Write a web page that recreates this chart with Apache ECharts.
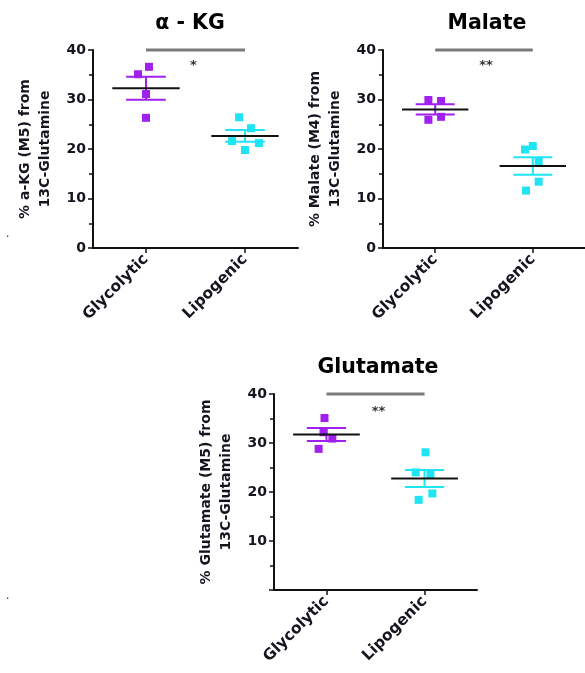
<!DOCTYPE html>
<html>
<head>
<meta charset="utf-8">
<script src="https://cdn.jsdelivr.net/npm/echarts@6/dist/echarts.min.js"></script>
<style>html,body{margin:0;padding:0;background:#fff}#c{width:585px;height:673px}</style>
</head>
<body>
<div id="c"></div>
<script>
// ---- data ----
const categories = ['Glycolytic', 'Lipogenic'];
const titles = ['α - KG', 'Malate', 'Glutamate'];
const yNames = ['% a-KG (M5) from\n13C-Glutamine', '% Malate (M4) from\n13C-Glutamine', '% Glutamate (M5) from\n13C-Glutamine'];
const yTicks = [0, 10, 20, 30, 40];
const sigLabels = ['*', '**', '**'];

const kgGly = [36.6, 35.1, 31.1, 26.3];
const kgLip = [26.4, 24.2, 21.6, 21.2, 19.8];
const malGly = [29.9, 29.7, 25.9, 26.5];
const malLip = [20.6, 19.9, 17.4, 13.4, 11.6];
const gluGly = [35.1, 32.2, 30.9, 28.8];
const gluLip = [28.1, 24.0, 23.6, 19.7, 18.4];

// horizontal scatter jitter (category units)
const kgGlyJit = [0.03, -0.08, 0, 0];
const kgLipJit = [-0.06, 0.06, -0.13, 0.14, 0];
const malGlyJit = [-0.07, 0.06, -0.07, 0.06];
const malLipJit = [0, -0.08, 0.06, 0.06, -0.07];
const gluGlyJit = [-0.02, -0.03, 0.06, -0.08];
const gluLipJit = [0.01, -0.09, 0.06, 0.08, -0.06];

// ---- layout / style ----
const FONT = 'DejaVu Sans';
const PURPLE = '#A020F0';
const CYAN = '#1FE4F4';
const grids = [
  {left: 93, top: 50, width: 205, height: 198},
  {left: 383, top: 50, width: 205, height: 198},
  {left: 274, top: 394, width: 203, height: 196}
];
const titleCenters = [185, 482, 373];
const sigTextX = [1.48, 1.52, 1.53];
const sigTextY = [36.8, 36.9, 36.4];
const panels = [
  {gly: kgGly, lip: kgLip, gj: kgGlyJit, lj: kgLipJit},
  {gly: malGly, lip: malLip, gj: malGlyJit, lj: malLipJit},
  {gly: gluGly, lip: gluLip, gj: gluGlyJit, lj: gluLipJit}
];

function meanSem(a) {
  const n = a.length;
  const m = a.reduce((s, v) => s + v, 0) / n;
  const sd = Math.sqrt(a.reduce((s, v) => s + (v - m) * (v - m), 0) / (n - 1));
  return [m, sd / Math.sqrt(n)];
}

const xAxis = [], yAxis = [], series = [], title = [];
panels.forEach((p, i) => {
  const g = grids[i];
  title.push({
    text: titles[i], left: titleCenters[i], top: g.top - 42, textAlign: 'center',
    textStyle: {fontFamily: FONT, fontWeight: 'bold', fontSize: 20.5, color: '#000'}
  });
  xAxis.push({
    type: 'value', gridIndex: i, min: 0.465, max: 2.535,
    axisLine: {show: true, lineStyle: {color: '#111', width: 2}},
    axisTick: {show: true, length: 5, lineStyle: {color: '#111', width: 1.5}, customValues: [1, 2]},
    axisLabel: {
      customValues: [1, 2], rotate: 45, margin: 9,
      formatter: v => categories[Math.round(v) - 1] || '',
      fontFamily: FONT, fontWeight: 'bold', fontSize: 15.5, color: '#151520'
    },
    splitLine: {show: false}
  });
  yAxis.push({
    type: 'value', gridIndex: i, min: yTicks[0], max: yTicks[yTicks.length - 1], interval: yTicks[1] - yTicks[0],
    name: yNames[i], nameLocation: 'middle', nameGap: 38, nameRotate: 90,
    nameTextStyle: {fontFamily: FONT, fontWeight: 'bold', fontSize: 14, lineHeight: 20, color: '#151520'},
    axisLine: {show: true, lineStyle: {color: '#111', width: 2}},
    axisTick: {show: true, length: 5, lineStyle: {color: '#111', width: 1.5}},
    minorTick: {show: true, splitNumber: 2, length: 4, lineStyle: {color: '#111', width: 1.5}},
    axisLabel: {
      margin: 7, showMinLabel: i !== 2,
      fontFamily: FONT, fontWeight: 'bold', fontSize: 14, color: '#151520'
    },
    splitLine: {show: false}
  });
  const groups = [
    {vals: p.gly, jit: p.gj, x: 1, color: PURPLE},
    {vals: p.lip, jit: p.lj, x: 2, color: CYAN}
  ];
  groups.forEach(gr => {
    const [m, s] = meanSem(gr.vals);
    series.push({
      type: 'custom', xAxisIndex: i, yAxisIndex: i, z: 2, clip: false,
      data: [[gr.x, m, s]],
      renderItem: (params, api) => {
        const x = api.value(0), mm = api.value(1), ss = api.value(2);
        const c = (a, b) => api.coord([a, b]);
        const st = {stroke: gr.color, lineWidth: 2};
        const l = (p1, p2, style) => ({type: 'line', shape: {x1: p1[0], y1: p1[1], x2: p2[0], y2: p2[1]}, style});
        return {type: 'group', children: [
          l(c(x, mm - ss), c(x, mm + ss), st),
          l(c(x - 0.2, mm + ss), c(x + 0.2, mm + ss), st),
          l(c(x - 0.2, mm - ss), c(x + 0.2, mm - ss), st)
        ]};
      }
    });
    series.push({
      type: 'scatter', xAxisIndex: i, yAxisIndex: i, z: 3,
      symbol: 'rect', symbolSize: 8,
      itemStyle: {color: gr.color, opacity: 1},
      data: gr.vals.map((v, k) => [gr.x + gr.jit[k], v])
    });
    series.push({
      type: 'custom', xAxisIndex: i, yAxisIndex: i, z: 4, clip: false,
      data: [[gr.x, m]],
      renderItem: (params, api) => {
        const x = api.value(0), mm = api.value(1);
        const a = api.coord([x - 0.34, mm]), b = api.coord([x + 0.34, mm]);
        return {type: 'line', shape: {x1: a[0], y1: a[1], x2: b[0], y2: b[1]}, style: {stroke: '#111', lineWidth: 2}};
      }
    });
  });
  series.push({
    type: 'line', xAxisIndex: i, yAxisIndex: i, clip: false, symbol: 'none', silent: true,
    lineStyle: {color: '#7a7a7a', width: 3},
    data: [[1, 40], [2, 40]]
  });
  series.push({
    type: 'custom', xAxisIndex: i, yAxisIndex: i, clip: false, silent: true, z: 5,
    data: [[sigTextX[i], sigTextY[i]]],
    renderItem: (params, api) => {
      const pt = api.coord([api.value(0), api.value(1)]);
      return {type: 'text', x: pt[0], y: pt[1], style: {
        text: sigLabels[i], align: 'center', verticalAlign: 'middle',
        fontFamily: FONT, fontWeight: 'bold', fontSize: 13, fill: '#333'
      }};
    }
  });
});

const chart = echarts.init(document.getElementById('c'), null, {renderer: 'canvas'});
chart.setOption({
  animation: false,
  backgroundColor: '#fff',
  title,
  grid: grids.map(g => Object.assign({containLabel: false}, g)),
  xAxis, yAxis, series,
  graphic: [
    {type: 'text', left: 6, top: 228, style: {text: '.', fontSize: 12, fill: '#333'}},
    {type: 'text', left: 6, top: 590, style: {text: '.', fontSize: 12, fill: '#333'}}
  ]
});
</script>
</body>
</html>
